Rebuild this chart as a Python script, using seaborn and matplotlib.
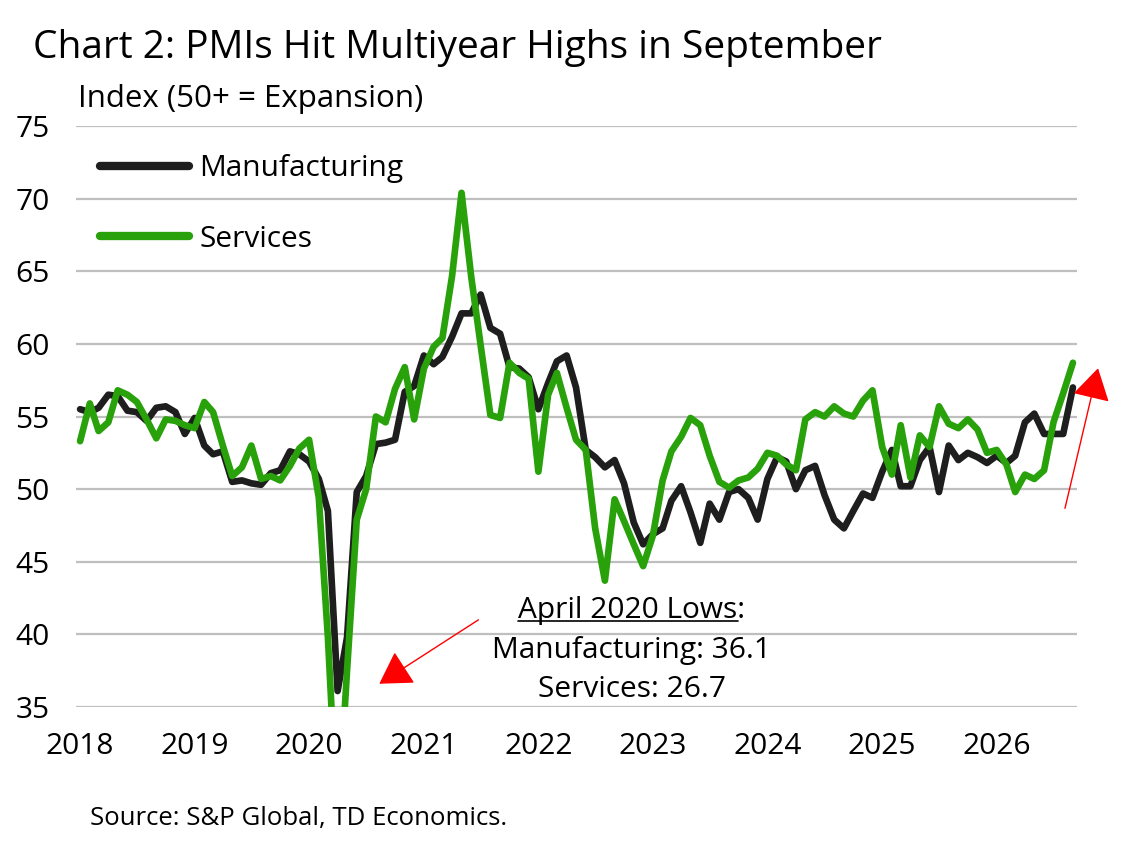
import matplotlib

matplotlib.use("Agg")

import matplotlib.pyplot as plt
import pandas as pd
import seaborn as sns
from matplotlib.lines import Line2D

# S&P Global US PMIs, monthly Jan 2018 - Sep 2026
months = pd.date_range("2018-01-01", "2026-09-01", freq="MS")

manufacturing = [
    55.5, 55.3, 55.6, 56.5, 56.4, 55.4, 55.3, 54.7, 55.6, 55.7, 55.3, 53.8,
    54.9, 53.0, 52.4, 52.6, 50.5, 50.6, 50.4, 50.3, 51.1, 51.3, 52.6, 52.4,
    51.9, 50.7, 48.5, 36.1, 39.8, 49.8, 50.9, 53.1, 53.2, 53.4, 56.7, 57.1,
    59.2, 58.6, 59.1, 60.5, 62.1, 62.1, 63.4, 61.1, 60.7, 58.4, 58.3, 57.7,
    55.5, 57.3, 58.8, 59.2, 57.0, 52.7, 52.2, 51.5, 52.0, 50.4, 47.7, 46.2,
    46.9, 47.3, 49.2, 50.2, 48.4, 46.3, 49.0, 47.9, 49.8, 50.0, 49.4, 47.9,
    50.7, 52.2, 51.9, 50.0, 51.3, 51.6, 49.6, 47.9, 47.3, 48.5, 49.7, 49.4,
    51.2, 52.7, 50.2, 50.2, 52.0, 52.9, 49.8, 53.0, 52.0, 52.5, 52.2, 51.8,
    52.3, 51.8, 52.3, 54.6, 55.2, 53.8, 53.8, 53.8, 57.0,
]

services = [
    53.3, 55.9, 54.0, 54.6, 56.8, 56.5, 56.0, 54.8, 53.5, 54.8, 54.7, 54.4,
    54.2, 56.0, 55.3, 53.0, 50.9, 51.5, 53.0, 50.7, 50.9, 50.6, 51.6, 52.8,
    53.4, 49.4, 39.8, 26.7, 37.5, 47.9, 50.0, 55.0, 54.6, 56.9, 58.4, 54.8,
    58.3, 59.8, 60.4, 64.7, 70.4, 64.6, 59.9, 55.1, 54.9, 58.7, 58.0, 57.6,
    51.2, 56.5, 58.0, 55.6, 53.4, 52.7, 47.3, 43.7, 49.3, 47.8, 46.2, 44.7,
    46.8, 50.6, 52.6, 53.6, 54.9, 54.4, 52.3, 50.5, 50.1, 50.6, 50.8, 51.4,
    52.5, 52.3, 51.7, 51.3, 54.8, 55.3, 55.0, 55.7, 55.2, 55.0, 56.1, 56.8,
    52.9, 51.0, 54.4, 50.8, 53.7, 52.9, 55.7, 54.5, 54.2, 54.8, 54.1, 52.5,
    52.7, 51.7, 49.8, 51.0, 50.7, 51.3, 54.6, 56.6, 58.7,
]

year_labels = [str(y) for y in range(2018, 2027)]
y_ticks = [35, 40, 45, 50, 55, 60, 65, 70, 75]
lows_lines = ["April 2020 Lows:", "Manufacturing: 36.1", "Services: 26.7"]

BLACK = "#1e1e1e"
GREEN = "#28a10b"
GRID = "#bfbfbf"
FONT = ["Open Sans", "DejaVu Sans"]
LABEL_SIZE = 21.5


def main() -> None:
    df = pd.DataFrame({"month": months, "Manufacturing": manufacturing, "Services": services})
    long = df.melt(id_vars="month", var_name="series", value_name="pmi")

    sns.set_theme(style="white")
    plt.rcParams["font.family"] = FONT
    plt.rcParams["text.color"] = "black"

    fig = plt.figure(figsize=(11.35, 8.48), dpi=100)
    ax = fig.add_axes([76 / 1135, 1 - 707 / 848, 1001 / 1135, 581 / 848])

    sns.lineplot(
        data=long, x="month", y="pmi", hue="series",
        palette={"Manufacturing": BLACK, "Services": GREEN},
        linewidth=4.8, ax=ax, legend=False,
    )

    pad = pd.Timedelta(days=13)
    ax.set_xlim(months[0] - pad, months[-1] + pad)
    ax.set_ylim(35, 75)
    ax.set_xticks([pd.Timestamp(f"{y}-01-01") for y in year_labels])
    ax.set_xticklabels(year_labels)
    ax.set_yticks(y_ticks)
    ax.set_yticklabels([str(v) for v in y_ticks])
    ax.set_xlabel("")
    ax.set_ylabel("")
    ax.tick_params(axis="both", length=0, labelsize=LABEL_SIZE, colors="black")
    ax.tick_params(axis="x", pad=18)
    ax.tick_params(axis="y", pad=19)
    ax.grid(axis="y", color=GRID, linewidth=1.6)
    ax.set_axisbelow(True)
    for spine in ax.spines.values():
        spine.set_visible(False)

    handles = [
        Line2D([], [], color=BLACK, linewidth=6),
        Line2D([], [], color=GREEN, linewidth=6),
    ]
    ax.legend(
        handles, ["Manufacturing", "Services"], loc="upper left",
        bbox_to_anchor=(-0.003, 0.998), frameon=False, fontsize=LABEL_SIZE,
        handlelength=3.0, handletextpad=0.33, labelspacing=1.4, labelcolor="black",
    )

    fig.text(33 / 1135, 1 - 58 / 848, "Chart 2: PMIs Hit Multiyear Highs in September",
             fontsize=28, va="baseline", ha="left")
    fig.text(78 / 1135, 1 - 107 / 848, "Index (50+ = Expansion)",
             fontsize=22.5, va="baseline", ha="left")
    fig.text(90 / 1135, 1 - 825 / 848, "Source: S&P Global, TD Economics.",
             fontsize=18.5, va="baseline", ha="left")

    # April 2020 lows note
    baselines = [618, 658, 697]
    notes = []
    for text, base in zip(lows_lines, baselines):
        notes.append(fig.text(632 / 1135, 1 - base / 848, text, fontsize=21.5,
                              va="baseline", ha="center"))
    renderer = fig.canvas.get_renderer()
    bb = notes[0].get_window_extent(renderer)
    colon = fig.text(0, 0, ":", fontsize=21.5)
    colon_w = colon.get_window_extent(renderer).width
    colon.remove()
    under_y = (848 - baselines[0] - 3) / 848
    fig.add_artist(Line2D([bb.x0 / 1135, (bb.x1 - colon_w) / 1135], [under_y, under_y],
                          color="black", linewidth=1.2))

    arrow = dict(arrowstyle="-|>,head_length=0.5,head_width=0.3", color="red",
                 lw=1, shrinkA=0, shrinkB=0, mutation_scale=40)
    ax.annotate("", xy=(0.303, 0.040), xytext=(0.402, 0.150), xycoords="axes fraction",
                arrowprops=arrow, annotation_clip=False)
    ax.annotate("", xy=(1.021, 0.583), xytext=(0.988, 0.342), xycoords="axes fraction",
                arrowprops=arrow, annotation_clip=False)

    fig.savefig("out.png", dpi=100)
    plt.close(fig)


if __name__ == "__main__":
    main()
